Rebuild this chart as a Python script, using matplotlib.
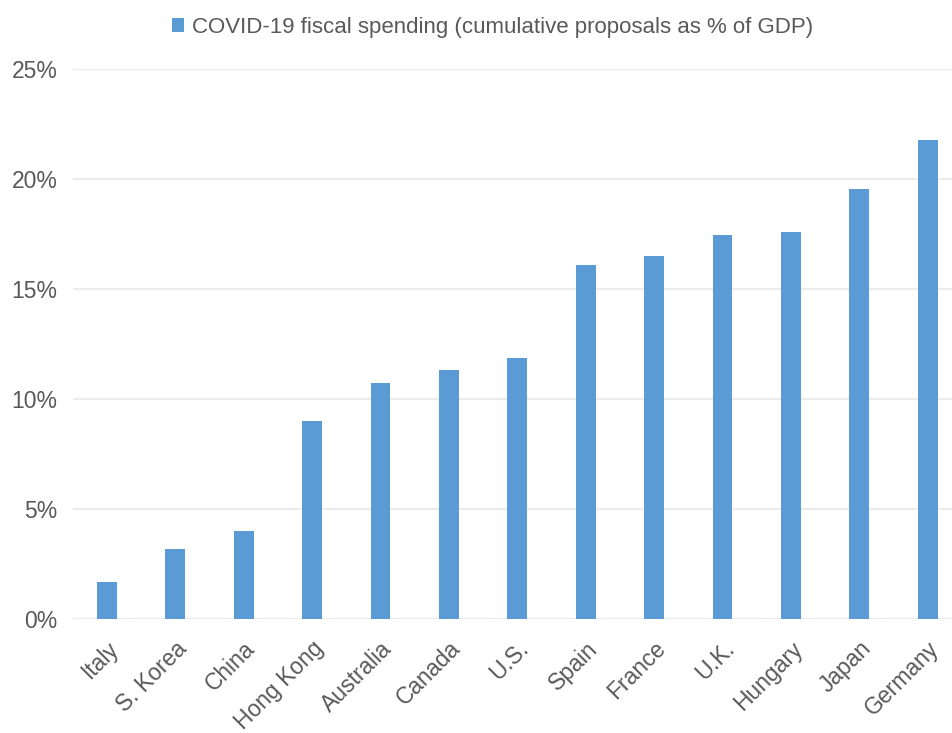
import numpy as np
import matplotlib.pyplot as plt
from matplotlib.ticker import PercentFormatter

paises = ['Italy', 'S. Korea', 'China', 'Hong Kong', 'Australia', 'Canada', 'U.S.',
          'Spain', 'France', 'U.K.', 'Hungary', 'Japan', 'Germany']
gastos = [1.67, 3.2, 3.98, 8.98, 10.73, 11.3, 11.84, 16.07, 16.52, 17.43, 17.58, 19.52, 21.79]

plt.rcParams['font.family'] = ['Liberation Sans', 'DejaVu Sans']
cinza = '#595959'

fig = plt.figure(figsize=(9.53, 7.33), dpi=100)
ax = fig.add_axes([0.0763, 0.1555, 0.9237, 0.7505])

x = np.arange(len(paises))
ax.bar(x, gastos, width=0.29, color='#5b9bd5', zorder=3,
       label='COVID-19 fiscal spending (cumulative proposals as % of GDP)')

ax.set_ylim(0, 25)
ax.set_xlim(-0.5, 12.37)
ax.set_yticks([0, 5, 10, 15, 20, 25])
ax.yaxis.set_major_formatter(PercentFormatter(decimals=0))
ax.grid(axis='y', color='#ebebeb', linewidth=1.5, zorder=0)
for s in ax.spines.values():
    s.set_visible(False)

ax.set_xticks(x)
ax.set_xticklabels(paises, rotation=45, ha='right', rotation_mode='anchor')
ax.tick_params(axis='both', length=0, labelsize=16.5, labelcolor=cinza)
ax.tick_params(axis='y', pad=11)
ax.tick_params(axis='x', pad=13)

fig.legend(loc='upper center', bbox_to_anchor=(0.517, 1.004), frameon=False,
           fontsize=16, labelcolor=cinza, handlelength=0.55, handleheight=0.6,
           handletextpad=0.35)

fig.savefig('out.png', dpi=100)
